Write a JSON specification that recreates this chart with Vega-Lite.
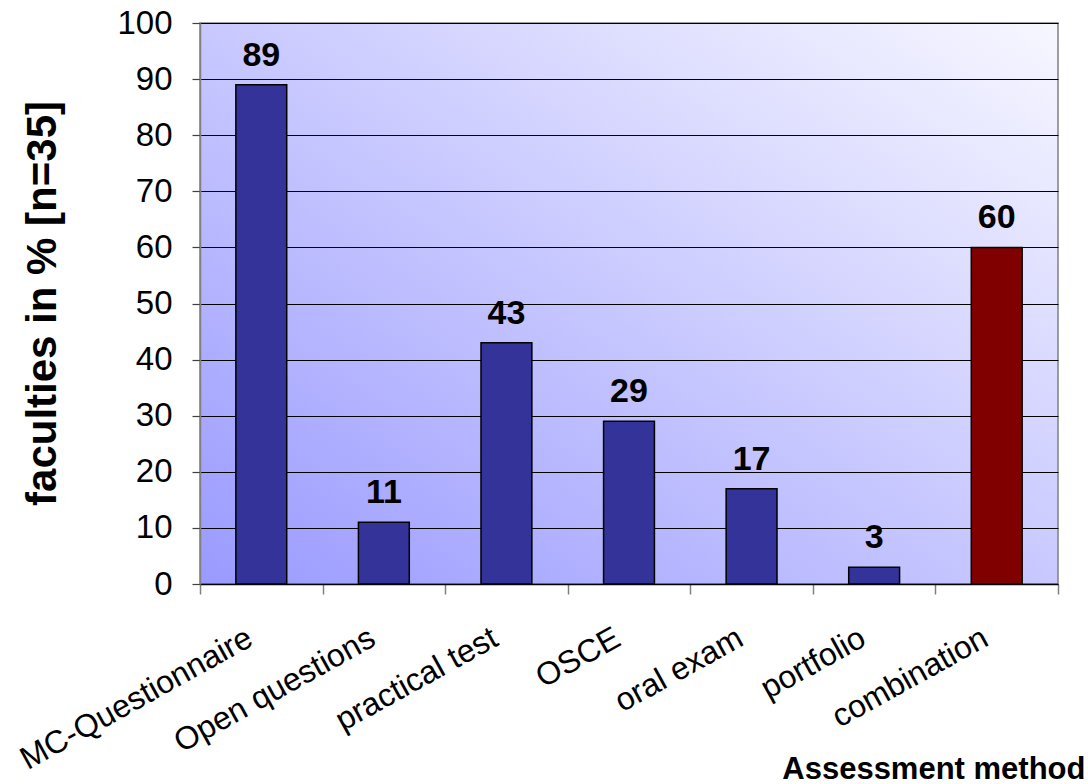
{
  "$schema": "https://vega.github.io/schema/vega-lite/v6.json",
  "width": 858,
  "height": 561,
  "autosize": {"type": "none"},
  "padding": {"left": 200, "top": 23, "right": 30, "bottom": 200},
  "background": "white",
  "config": {
    "font": "Liberation Sans",
    "view": {
      "stroke": "#808080",
      "strokeWidth": 1.5,
      "fill": {
        "gradient": "linear",
        "x1": 0, "y1": 1, "x2": 1, "y2": 0,
        "stops": [
          {"offset": 0, "color": "#9a9aff"},
          {"offset": 1, "color": "#f7f7ff"}
        ]
      }
    }
  },
  "data": {
    "values": [
      {"method": "MC-Questionnaire", "value": 89, "type": "single"},
      {"method": "Open questions", "value": 11, "type": "single"},
      {"method": "practical test", "value": 43, "type": "single"},
      {"method": "OSCE", "value": 29, "type": "single"},
      {"method": "oral exam", "value": 17, "type": "single"},
      {"method": "portfolio", "value": 3, "type": "single"},
      {"method": "combination", "value": 60, "type": "combo"}
    ]
  },
  "encoding": {
    "x": {
      "field": "method",
      "type": "nominal",
      "sort": null,
      "scale": {"paddingInner": 0, "paddingOuter": 0},
      "axis": {
        "title": "Assessment method",
        "titleFontSize": 31,
        "titleFontWeight": "bold",
        "titleColor": "black",
        "titleAnchor": "end",
        "titleAlign": "right",
        "titleBaseline": "alphabetic",
        "titleX": 885,
        "titleY": 194,
        "labelAngle": -29,
        "labelAlign": "right",
        "labelBaseline": "top",
        "labelFontSize": 32,
        "labelColor": "black",
        "labelLimit": 0,
        "labelPadding": 28,
        "labelOffset": -19,
        "tickBand": "extent",
        "tickSize": 10,
        "tickColor": "#808080",
        "tickWidth": 1.5,
        "domainColor": "black",
        "domainWidth": 1.5,
        "grid": false
      }
    },
    "y": {
      "field": "value",
      "type": "quantitative",
      "scale": {"domain": [0, 100], "nice": false},
      "axis": {
        "title": "faculties in % [n=35]",
        "titleFontSize": 42,
        "titleFontWeight": "bold",
        "titleColor": "black",
        "titleX": -158,
        "titleY": 280,
        "titleAngle": -90,
        "titleAlign": "center",
        "titleBaseline": "middle",
        "values": [0, 10, 20, 30, 40, 50, 60, 70, 80, 90, 100],
        "labelFontSize": 33,
        "labelColor": "black",
        "labelPadding": 20,
        "tickSize": 8,
        "tickColor": "#404040",
        "tickWidth": 1.2,
        "domainColor": "#808080",
        "domainWidth": 1.5,
        "grid": true,
        "gridColor": "black",
        "gridWidth": 1.2,
        "gridOpacity": 1
      }
    }
  },
  "layer": [
    {
      "mark": {"type": "bar", "stroke": "black", "strokeWidth": 1.5, "width": {"band": 0.415}},
      "encoding": {
        "color": {
          "field": "type",
          "type": "nominal",
          "scale": {"domain": ["single", "combo"], "range": ["#333399", "#800000"]},
          "legend": null
        }
      }
    },
    {
      "mark": {"type": "text", "fontSize": 34, "fontWeight": "bold", "baseline": "alphabetic", "dy": -19, "color": "black"},
      "encoding": {"text": {"field": "value", "type": "quantitative"}}
    }
  ]
}
